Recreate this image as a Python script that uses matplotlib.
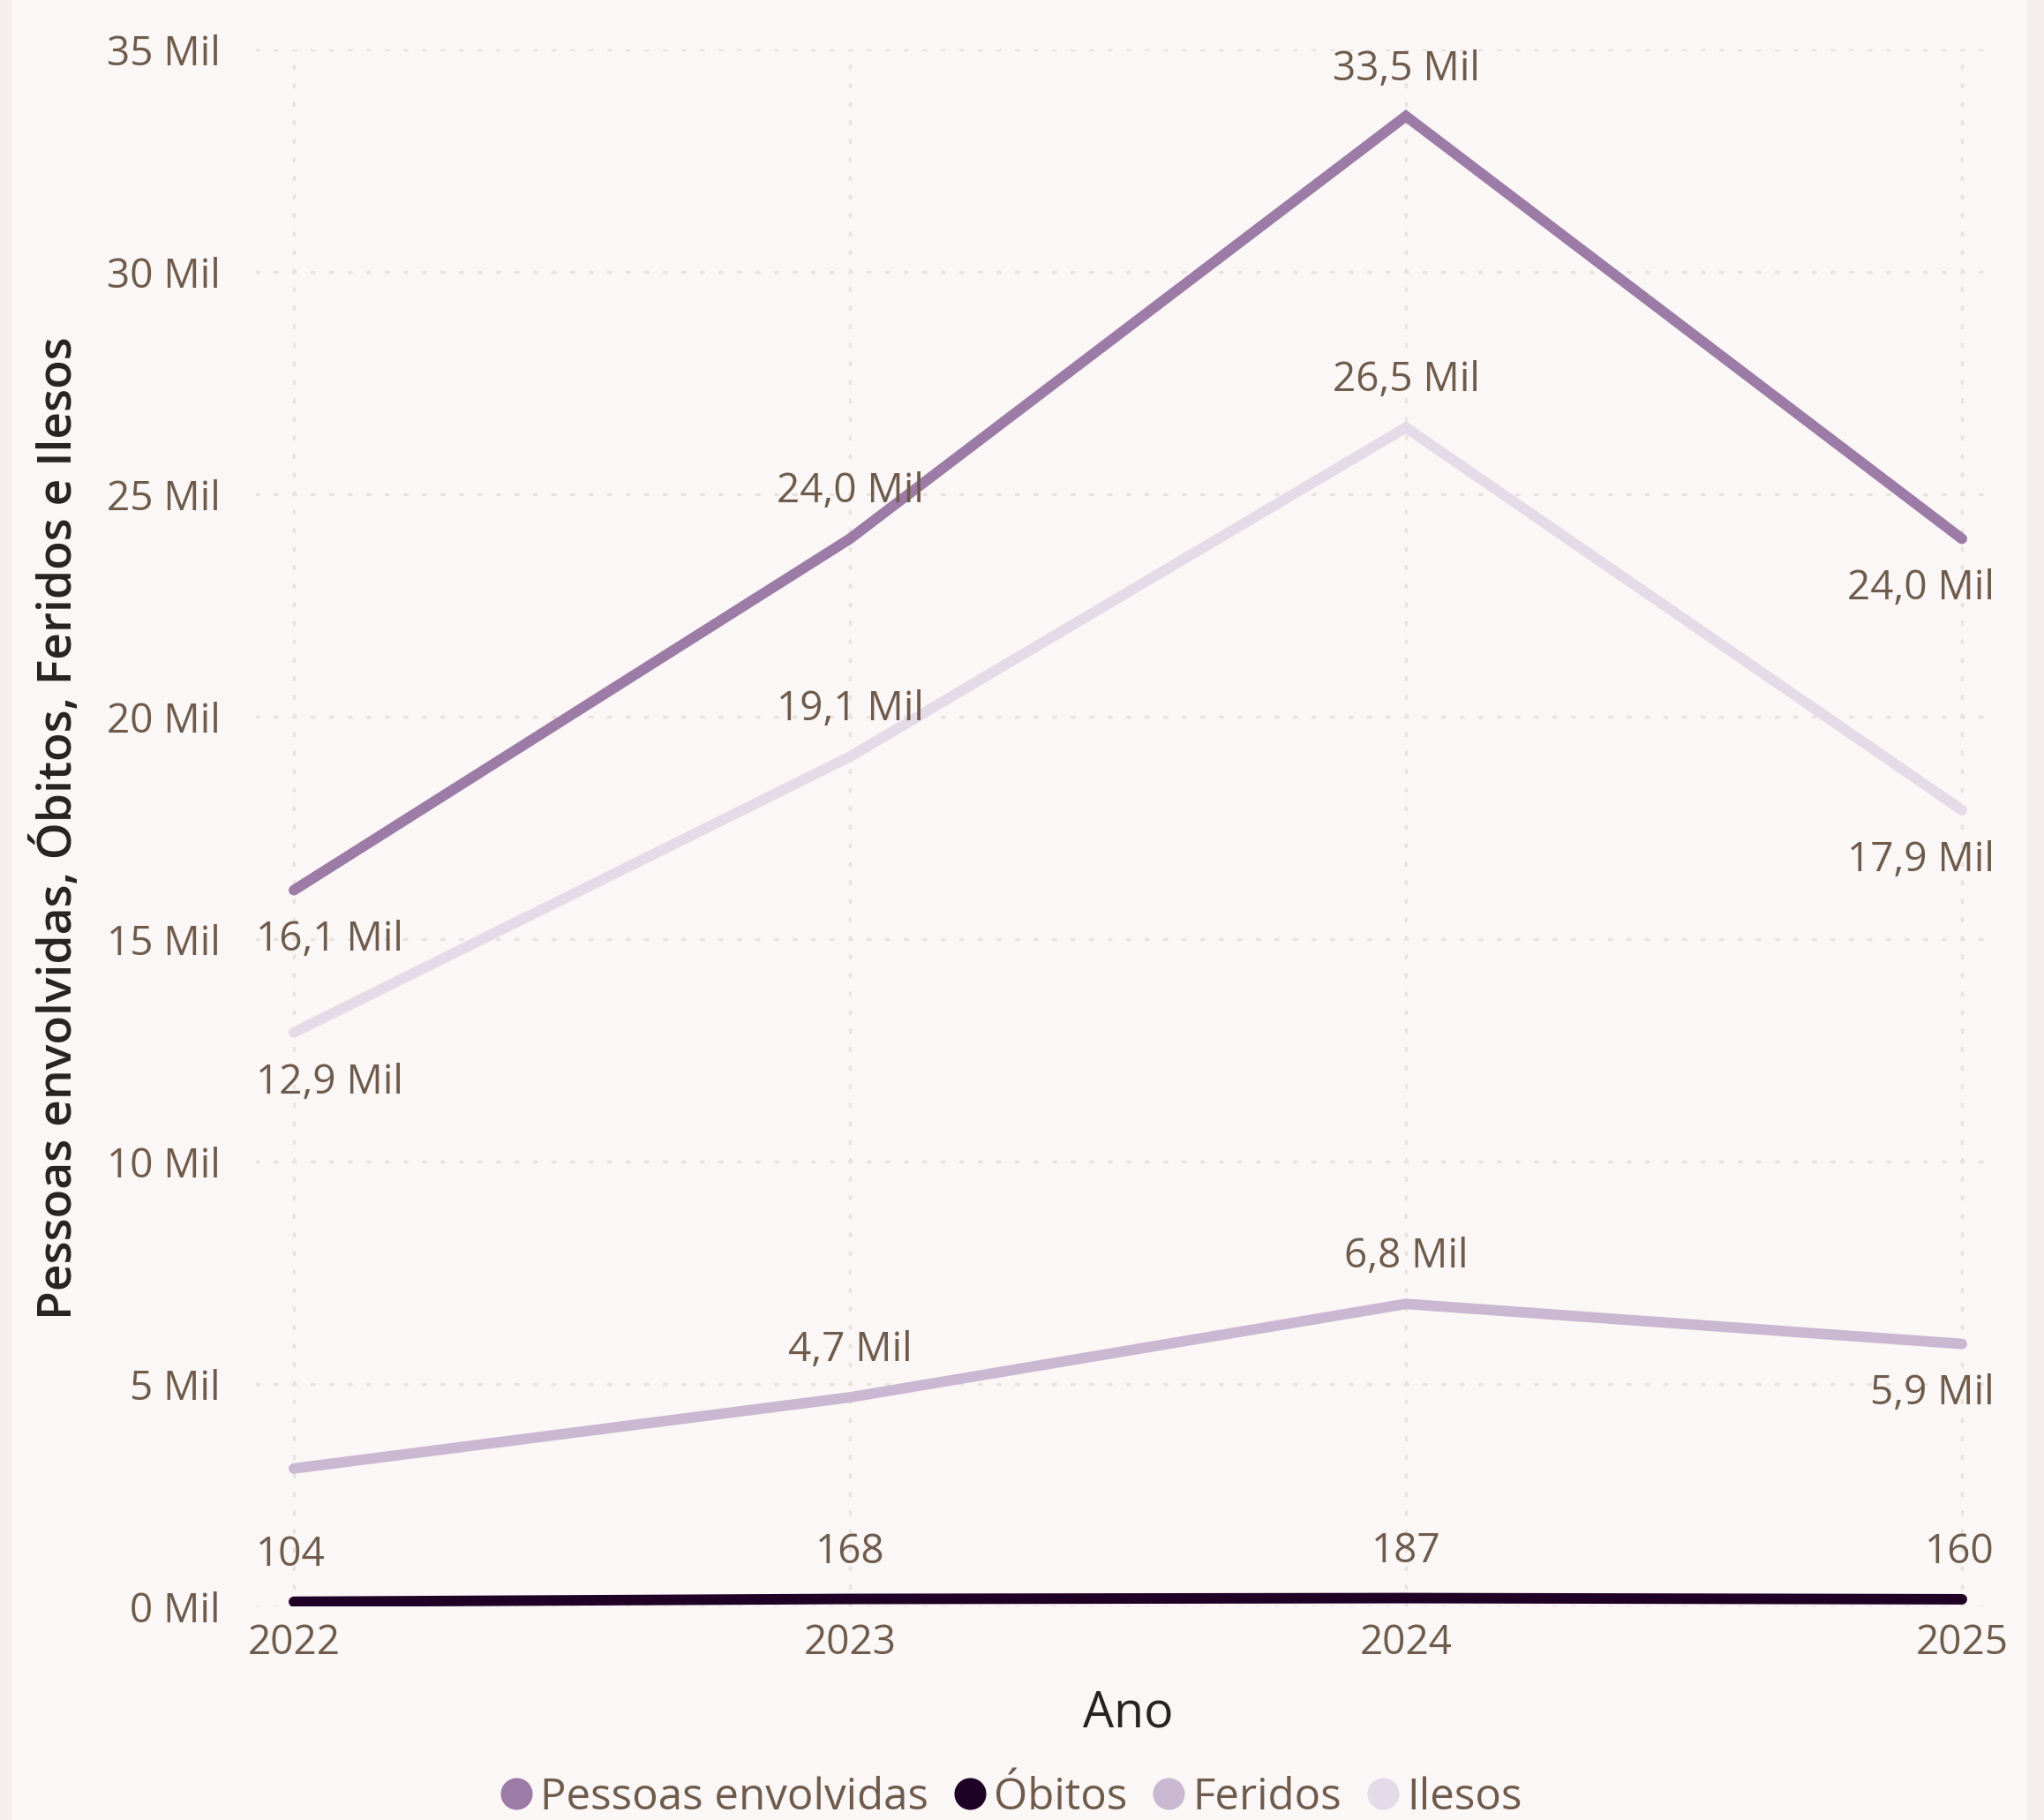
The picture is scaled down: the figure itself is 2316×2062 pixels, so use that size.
import matplotlib
matplotlib.use("Agg")
import matplotlib.pyplot as plt
from matplotlib.lines import Line2D
from matplotlib.patches import Rectangle
from matplotlib.ticker import FixedLocator, FuncFormatter

plt.rcParams['font.family'] = ['Open Sans', 'DejaVu Sans']

# ---- data ----
years = [2022, 2023, 2024, 2025]
pessoas = [16100, 24000, 33500, 24000]
obitos = [104, 168, 187, 160]
feridos = [3100, 4700, 6800, 5900]
ilesos = [12900, 19100, 26500, 17900]

series_names = ["Pessoas envolvidas", "Óbitos", "Feridos", "Ilesos"]
y_ticks = [0, 5000, 10000, 15000, 20000, 25000, 30000, 35000]

# label placement per series: 'a' above, 'b' below, None no label
placements = {
    "Pessoas envolvidas": ['b', 'a', 'a', 'b'],
    "Óbitos": ['a', 'a', 'a', 'a'],
    "Feridos": [None, 'a', 'a', 'b'],
    "Ilesos": ['b', 'a', 'a', 'b'],
}

colors = {
    "Pessoas envolvidas": "#9D7BA7",
    "Óbitos": "#1F0126",
    "Feridos": "#CAB7D2",
    "Ilesos": "#E4DBE8",
}
values = {
    "Pessoas envolvidas": pessoas,
    "Óbitos": obitos,
    "Feridos": feridos,
    "Ilesos": ilesos,
}

bg = "#FAF7F6"
tick_col = "#6F5B4C"
title_col = "#252423"

W, H = 2316, 2062
fig = plt.figure(figsize=(W / 100, H / 100), dpi=100, facecolor=bg)
# side strips
fig.patches.append(Rectangle((0, 0), 13 / W, 1, transform=fig.transFigure,
                             facecolor="#F4EFEC", edgecolor="none", zorder=-10))
fig.patches.append(Rectangle((2296 / W, 0), 20 / W, 1, transform=fig.transFigure,
                             facecolor="#F4EFEC", edgecolor="none", zorder=-10))

ax_left, ax_right = 290, 2260
ax_top, ax_bottom = 56, 1820
ax = fig.add_axes([ax_left / W, 1 - ax_bottom / H, (ax_right - ax_left) / W, (ax_bottom - ax_top) / H])
ax.set_facecolor(bg)

px_per_year = 630.0
x0 = years[0] - (333 - ax_left) / px_per_year
x1 = years[-1] + (ax_right - 2223) / px_per_year
ax.set_xlim(x0, x1)
ax.set_ylim(0, 35000)

for s in ax.spines.values():
    s.set_visible(False)

grid_kw = dict(color="#E8E3DF", linewidth=2.4, linestyle=(0, (0.8, 5.5)), dash_capstyle='round')
ax.yaxis.set_major_locator(FixedLocator(y_ticks))
ax.xaxis.set_major_locator(FixedLocator(years))
ax.grid(True, axis='both', **grid_kw)
ax.set_axisbelow(True)

ax.yaxis.set_major_formatter(FuncFormatter(lambda v, p: f"{int(v/1000)} Mil"))
ax.xaxis.set_major_formatter(FuncFormatter(lambda v, p: f"{int(v)}"))
ax.tick_params(axis='both', length=0, labelsize=33, colors=tick_col)
ax.tick_params(axis='y', pad=29)
ax.tick_params(axis='x', pad=14)

order = ["Ilesos", "Feridos", "Pessoas envolvidas", "Óbitos"]
for name in order:
    ax.plot(years, values[name], color=colors[name], linewidth=8.6,
            solid_capstyle='round', solid_joinstyle='miter', zorder=3)


def fmt(v):
    if v < 1000:
        return f"{v}"
    return f"{v/1000:.1f}".replace('.', ',') + " Mil"


for name in series_names:
    for i, (xv, yv) in enumerate(zip(years, values[name])):
        pl = placements[name][i]
        if pl is None:
            continue
        dy = 29.5 if pl == 'a' else -49.5
        if i == 0:
            xpos, ha = x0, 'left'
        elif i == len(years) - 1:
            xpos, ha = x1, 'right'
        else:
            xpos, ha = xv, 'center'
        ax.annotate(fmt(yv), xy=(xpos, yv), xytext=(0, dy), textcoords='offset points',
                    ha=ha, va='baseline', fontsize=33, color=tick_col, zorder=5)

ax.set_xlabel("Ano", fontsize=40, color=title_col, fontweight='medium')
ax.xaxis.set_label_coords((1278 - ax_left) / (ax_right - ax_left), (ax_bottom - 1942) / (ax_bottom - ax_top))
ax.xaxis.label.set_va('center')
ax.set_ylabel("Pessoas envolvidas, Óbitos, Feridos e Ilesos", fontsize=38.5, color=title_col,
              fontweight='semibold')
ax.yaxis.set_label_coords((66 - ax_left) / (ax_right - ax_left), 0.5)
ax.yaxis.label.set_va('center')

handles = [Line2D([], [], linestyle='none', marker='o', markersize=25,
                  markerfacecolor=colors[n], markeredgecolor=colors[n]) for n in series_names]
leg = fig.legend(handles, series_names, loc='center', ncol=4,
                 bbox_to_anchor=(1146 / W, 1 - 2037 / H), frameon=False,
                 fontsize=35.5, handlelength=0.7, handletextpad=0.2, columnspacing=0.6,
                 borderpad=0, labelcolor=tick_col)

fig.savefig("out.png", dpi=100, facecolor=bg)
